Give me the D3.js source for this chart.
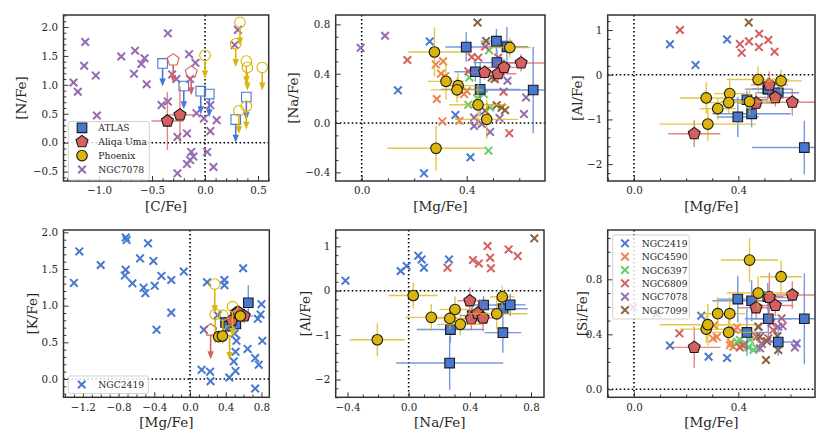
<!DOCTYPE html>
<html>
<head>
<meta charset="utf-8">
<script src="https://cdn.jsdelivr.net/npm/d3@7/dist/d3.min.js"></script>
<style>
html,body{margin:0;padding:0;background:#fff;}
svg{display:block;}
</style>
</head>
<body>
<svg id="chart" width="830" height="443"></svg>
<script>
// ======================= DATA =======================
const clusterNames  = ["NGC2419","NGC4590","NGC6397","NGC6809","NGC7078","NGC7099"];
const clusterColors = ["#4878d0","#ee854a","#6acc64","#d65f5f","#956cb4","#8c613c"];
const seriesNames   = ["ATLAS","Aliqa Uma","Phoenix"];
const seriesColors  = ["#4878d0","#d65f5f","#dbb40c"];

// ATLAS stars
const atlasMg    = [0.398,0.451,0.433,0.553,0.653,0.513,0.515];
const atlasMgErr = [0.08,0.15,0.08,0.08,0.20,0.06,0.09];
const atlasNa    = [0.616,0.273,0.416,0.618,0.268,0.664,0.490];
const atlasNaErr = [0.12,0.22,0.08,0.16,0.35,0.10,0.10];
const atlasAl    = [-0.945,-0.875,-0.560,-0.405,-1.630,-0.318,-0.322];
const atlasAlErr = [0.45,0.30,0.20,0.15,0.60,0.25,0.20];
const atlasSi    = [0.656,0.644,0.414,0.344,0.513,0.673,0.513];
const atlasSiErr = [0.17,0.15,0.17,0.10,0.33,0.10,0.15];
const atlasK     = [0.77,null,0.72,null,1.04,0.75,null];
const atlasKErr  = [0.08,null,0.08,null,0.24,0.08,null];
const atlasKMgErr= [0.04,null,0.04,null,0.04,0.04,null];

// Aliqa Uma stars
const aliqaMg    = [0.231,0.468,0.519,0.542,0.607];
const aliqaMgErr = [0.10,0.07,0.07,0.07,0.10];
const aliqaNa    = [null,0.410,0.400,0.451,0.487];
const aliqaNaErr = [null,0.06,0.08,0.07,0.07];
const aliqaAl    = [-1.32,-0.635,-0.228,-0.510,-0.615];
const aliqaAlErr = [0.30,0.25,0.30,0.20,0.30];
const aliqaSi    = [0.305,0.593,0.668,0.610,0.686];
const aliqaSiErr = [0.15,0.08,0.18,0.08,0.10];
const aliqaK     = [0.668,0.800,0.900,0.910,0.860];
const aliqaKUpper= [true,false,false,false,false];
const aliqaKErr  = [null,0.08,0.10,0.08,0.10];

// Phoenix stars
const phoenixMg    = [0.277,0.321,0.367,0.363,0.443,0.476,0.564,0.283];
const phoenixMgErr = [0.10,0.07,0.06,0.10,0.11,0.12,0.08,0.185];
const phoenixNa    = [0.576,0.338,0.303,0.269,0.148,0.030,0.612,-0.205];
const phoenixNaErr = [0.20,0.15,0.10,0.10,0.17,0.16,0.08,0.18];
const phoenixAl    = [-0.520,-0.758,-0.423,-0.624,-0.600,-0.108,-0.138,-1.105];
const phoenixAlErr = [0.35,0.25,0.30,0.25,0.30,0.30,0.25,0.37];
const phoenixSi    = [0.438,0.550,0.550,0.414,0.940,0.700,0.819,0.470];
const phoenixSiErr = [0.10,0.12,0.12,0.10,0.16,0.12,0.12,0.15];
const phoenixK     = [1.295,0.577,0.870,0.586,0.660,0.986,0.859,0.880];
const phoenixKUpper= [true,false,true,false,true,true,false,true];
const phoenixKErr  = [null,0.06,null,0.06,null,null,0.06,null];

// Panel [C/Fe] vs [N/Fe]
const cnNGC7078 = [[-1.24,1.04],[-1.20,0.88],[-1.13,1.74],[-1.14,1.33],[-1.03,1.16],[-1.02,0.47],[-0.79,1.49],[-0.66,1.59],[-0.67,1.19],[-0.60,1.36],[-0.57,1.46],[-0.55,1.01],[-0.35,1.89],[-0.41,0.65],[-0.35,0.71],[-0.31,1.18],[-0.27,1.10],[-0.26,0.10],[-0.26,-0.53],[-0.15,1.53],[-0.09,1.38],[-0.14,1.10],[-0.17,0.16],[-0.13,-0.16],[-0.11,-0.24],[-0.14,-0.30],[-0.17,-0.37],[-0.08,0.51],[-0.01,0.42],[0.05,0.65],[0.11,0.39],[0.05,0.20],[0.02,-0.16],[0.08,-0.42],[0.31,1.95],[0.28,1.69]];
const cnAtlasUpper   = [[-0.40,1.37],[-0.20,0.98],[-0.04,0.89],[0.04,0.84],[0.29,0.40],[0.39,0.79]];
const cnAliqaUpper   = [[-0.30,1.43],[-0.13,1.22]];
const cnAliqa        = [[-0.355,0.375,0.15,0.50],[-0.236,0.48,0.14,0.49]]; // C, N, Cerr, Nerr
const cnPhoenixUpper = [[0.00,1.51],[0.33,2.08],[0.29,1.71],[0.39,1.41],[0.40,1.30],[0.54,1.30],[0.32,0.55],[0.39,0.63]];
const upperLimitLength = 0.4;

// Cluster comparison samples: [cluster, x, y]
const mgNaClusters = [
 ["NGC2419",0.259,0.662],["NGC2419",0.138,0.265],["NGC2419",0.357,0.066],["NGC2419",0.414,-0.278],["NGC2419",0.237,-0.408],
 ["NGC4590",0.310,0.50],["NGC4590",0.282,0.475],["NGC4590",0.302,0.40],["NGC4590",0.318,0.38],["NGC4590",0.39,0.235],["NGC4590",0.286,0.195],["NGC4590",0.307,0.013],["NGC4590",0.372,0.018],["NGC4590",0.40,0.26],
 ["NGC6397",0.485,0.59],["NGC6397",0.483,-0.224],["NGC6397",0.41,0.37],["NGC6397",0.406,0.149],["NGC6397",0.489,0.127],["NGC6397",0.465,0.235],["NGC6397",0.44,0.20],
 ["NGC6809",0.174,0.511],["NGC6809",0.419,0.535],["NGC6809",0.444,0.53],["NGC6809",0.406,0.419],["NGC6809",0.54,0.254],["NGC6809",0.562,-0.082],["NGC6809",0.52,0.53],["NGC6809",0.47,0.62],
 ["NGC7078",-0.004,0.61],["NGC7078",0.089,0.708],["NGC7078",0.555,0.343],["NGC7078",0.626,0.208],["NGC7078",0.618,0.073],["NGC7078",0.489,-0.072],["NGC7078",0.428,-0.024],["NGC7078",0.428,0.045],["NGC7078",0.525,0.04],["NGC7078",0.457,-0.008],
 ["NGC7099",0.441,0.815],["NGC7099",0.474,0.665],["NGC7099",0.506,0.357],["NGC7099",0.495,0.37],["NGC7099",0.514,0.145],["NGC7099",0.546,0.104],["NGC7099",0.533,0.125],["NGC7099",0.47,0.10]
];
const mgAlClusters = [
 ["NGC2419",0.138,0.68],["NGC2419",0.236,0.216],["NGC2419",0.357,0.79],
 ["NGC6809",0.176,1.0],["NGC6809",0.406,0.686],["NGC6809",0.413,0.49],["NGC6809",0.441,0.746],["NGC6809",0.48,0.917],["NGC6809",0.479,0.619],["NGC6809",0.515,0.776],["NGC6809",0.539,0.515],
 ["NGC7099",0.44,1.17]
];
const mgKClusters = [
 ["NGC2419",-1.30,1.31],["NGC2419",-1.24,1.74],["NGC2419",-1.00,1.555],["NGC2419",-0.72,1.93],["NGC2419",-0.71,1.895],["NGC2419",-0.72,1.49],["NGC2419",-0.73,1.41],["NGC2419",-0.645,1.305],["NGC2419",-0.56,1.645],["NGC2419",-0.52,1.245],["NGC2419",-0.50,1.17],["NGC2419",-0.47,1.85],["NGC2419",-0.41,1.61],["NGC2419",-0.395,1.27],["NGC2419",-0.32,1.405],["NGC2419",-0.375,0.67],["NGC2419",-0.21,1.35],["NGC2419",-0.21,0.905],["NGC2419",-0.07,1.465],
 ["NGC2419",0.19,1.32],["NGC2419",0.155,0.67],["NGC2419",0.13,0.125],["NGC2419",0.225,0.10],["NGC2419",0.23,-0.03],["NGC2419",0.385,1.35],["NGC2419",0.385,1.28],["NGC2419",0.595,1.51],["NGC2419",0.50,0.62],["NGC2419",0.52,0.52],["NGC2419",0.51,0.37],["NGC2419",0.49,0.24],["NGC2419",0.51,0.11],["NGC2419",0.44,0.02],["NGC2419",0.645,0.41],["NGC2419",0.73,0.285],["NGC2419",0.77,0.195],["NGC2419",0.80,1.02],["NGC2419",0.79,0.88],["NGC2419",0.76,0.82],["NGC2419",0.81,0.52],["NGC2419",0.73,-0.13],["NGC2419",0.31,0.87]
];
const naAlClusters = [
 ["NGC2419",-0.413,0.225],["NGC2419",-0.052,0.443],["NGC2419",-0.013,0.555],["NGC2419",0.063,0.788],["NGC2419",0.085,0.705],["NGC2419",0.10,0.518],["NGC2419",0.264,0.705],
 ["NGC6809",0.254,0.518],["NGC6809",0.42,0.69],["NGC6809",0.459,0.615],["NGC6809",0.516,1.005],["NGC6809",0.533,0.743],["NGC6809",0.538,0.503],["NGC6809",0.654,0.93],["NGC6809",0.713,0.78],
 ["NGC7099",0.822,1.18]
];
const mgSiClusters = [
 ["NGC2419",0.138,0.318],["NGC2419",0.258,0.535],["NGC2419",0.286,0.237],["NGC2419",0.357,0.228],
 ["NGC4590",0.307,0.465],["NGC4590",0.303,0.37],["NGC4590",0.387,0.431],["NGC4590",0.381,0.31],["NGC4590",0.368,0.322],["NGC4590",0.318,0.38],["NGC4590",0.395,0.45],["NGC4590",0.372,0.34],
 ["NGC6397",0.406,0.359],["NGC6397",0.426,0.334],["NGC6397",0.439,0.305],["NGC6397",0.458,0.286],["NGC6397",0.412,0.322],["NGC6397",0.395,0.345],["NGC6397",0.445,0.36],["NGC6397",0.47,0.30],
 ["NGC6809",0.174,0.407],["NGC6809",0.406,0.305],["NGC6809",0.47,0.383],["NGC6809",0.515,0.371],["NGC6809",0.534,0.431],["NGC6809",0.527,0.484],["NGC6809",0.566,0.516],["NGC6809",0.42,0.32],["NGC6809",0.49,0.33],
 ["NGC7078",-0.003,0.596],["NGC7078",0.087,0.548],["NGC7078",0.478,0.455],["NGC7078",0.553,0.455],["NGC7078",0.57,0.46],["NGC7078",0.624,0.334],["NGC7078",0.617,0.305],["NGC7078",0.483,0.298],
 ["NGC7099",0.476,0.455],["NGC7099",0.506,0.213],["NGC7099",0.483,0.383],["NGC7099",0.55,0.387],["NGC7099",0.553,0.286],["NGC7099",0.51,0.35]
];

// Tick values
const cnXTicks = [-1.0,-0.5,0.0,0.5],  cnYTicks = [-0.5,0.0,0.5,1.0,1.5,2.0];
const naXTicks = [0.0,0.4],            naYTicks = [-0.4,0.0,0.4,0.8];
const alXTicks = [0.0,0.4],            alYTicks = [-2,-1,0,1];
const kXTicks  = [-1.2,-0.8,-0.4,0.0,0.4,0.8], kYTicks = [0.0,0.5,1.0,1.5,2.0];
const naAlXTicks = [-0.4,0.0,0.4,0.8], naAlYTicks = [-2,-1,0,1];
const siXTicks = [0.0,0.4],            siYTicks = [0.0,0.4,0.8];

// ======================= DRAWING =======================
const FONT = '"DejaVu Serif","Liberation Serif",serif';
const svg = d3.select('#chart');
const defs = svg.append('defs');
const cColor = n => clusterColors[clusterNames.indexOf(n)];
const fmt1 = d3.format('.1f'), fmt0 = d3.format('d');

function shapePath(shape){
  if(shape==='square') return 'M-4.8,-4.8H4.8V4.8H-4.8Z';
  if(shape==='circle') return d3.symbol(d3.symbolCircle, Math.PI*5.3*5.3)();
  if(shape==='pentagon'){
    const r=6.3;
    const p=d3.range(5).map(i=>{const a=-Math.PI/2+i*2*Math.PI/5;return [r*Math.cos(a),r*Math.sin(a)];});
    return 'M'+p.map(q=>q[0].toFixed(2)+','+q[1].toFixed(2)).join('L')+'Z';
  }
  return 'M-3.8,-3.8L3.8,3.8M-3.8,3.8L3.8,-3.8';
}

function minorTicks(domain, step, majors){
  const out=[]; const s=Math.ceil(domain[0]/step-1e-9), e=Math.floor(domain[1]/step+1e-9);
  for(let i=s;i<=e;i++){const v=+(i*step).toFixed(6); if(!majors.some(m=>Math.abs(m-v)<1e-6)) out.push(v);}
  return out;
}

function makePanel(cfg){
  const x=d3.scaleLinear().domain(cfg.xd).range([cfg.x0,cfg.x1]);
  const y=d3.scaleLinear().domain(cfg.yd).range([cfg.y1,cfg.y0]);
  const g=svg.append('g');
  defs.append('clipPath').attr('id','clip-'+cfg.id).append('rect')
    .attr('x',cfg.x0).attr('y',cfg.y0).attr('width',cfg.x1-cfg.x0).attr('height',cfg.y1-cfg.y0);
  const plot=g.append('g').attr('clip-path',`url(#clip-${cfg.id})`);
  const z=plot.append('g').attr('stroke','#000').attr('stroke-width',1.6).attr('stroke-dasharray','1.6,2.4');
  z.append('line').attr('x1',x(0)).attr('x2',x(0)).attr('y1',cfg.y0).attr('y2',cfg.y1);
  z.append('line').attr('x1',cfg.x0).attr('x2',cfg.x1).attr('y1',y(0)).attr('y2',y(0));
  return {x,y,g,plot,cfg};
}

function crosses(p, recs){
  p.plot.append('g').selectAll('path').data(recs).join('path')
    .attr('d',shapePath('cross'))
    .attr('transform',d=>`translate(${p.x(d[1])},${p.y(d[2])})`)
    .attr('stroke',d=>cColor(d[0])).attr('stroke-width',2).attr('fill','none');
}

function errorBars(p, pts, color){
  const gg=p.plot.append('g').attr('stroke',color).attr('stroke-width',1.4).attr('opacity',0.75);
  pts.forEach(d=>{
    if(d.xe) gg.append('line').attr('x1',p.x(d.x-d.xe)).attr('x2',p.x(d.x+d.xe)).attr('y1',p.y(d.y)).attr('y2',p.y(d.y));
    if(d.ye) gg.append('line').attr('x1',p.x(d.x)).attr('x2',p.x(d.x)).attr('y1',p.y(d.y-d.ye)).attr('y2',p.y(d.y+d.ye));
  });
}

function markers(p, pts, shape, color){
  p.plot.append('g').selectAll('path').data(pts).join('path')
    .attr('d',shapePath(shape))
    .attr('transform',d=>`translate(${p.x(d.x)},${p.y(d.y)})`)
    .attr('fill',color).attr('stroke','#1a1a1a').attr('stroke-width',1.1);
}

function upper(p, pts, shape, color){
  const gg=p.plot.append('g');
  pts.forEach(d=>{
    const cx=p.x(d.x), cy=p.y(d.y), ey=p.y(d.y-upperLimitLength);
    gg.append('line').attr('x1',cx).attr('x2',cx).attr('y1',cy+5).attr('y2',ey-6)
      .attr('stroke',color).attr('stroke-width',1.6);
    gg.append('path').attr('d',`M${cx-3.2},${ey-8}L${cx+3.2},${ey-8}L${cx},${ey}Z`).attr('fill',color);
    gg.append('path').attr('d',shapePath(shape)).attr('transform',`translate(${cx},${cy})`)
      .attr('fill','none').attr('stroke',color).attr('stroke-width',1.1);
  });
}

function axes(p){
  const {x,y,g,cfg}=p;
  const st=(sel)=>{sel.select('.domain').remove();
    sel.selectAll('line').attr('stroke','#333').attr('stroke-width',1);
    sel.selectAll('text').attr('font-family',FONT).attr('font-size',10.3).attr('fill','#262626');};
  g.append('g').attr('transform',`translate(0,${cfg.y1})`)
    .call(d3.axisBottom(x).tickValues(minorTicks(cfg.xd,cfg.xm,cfg.xt)).tickFormat(()=>'').tickSizeInner(-2.8).tickSizeOuter(0)).call(st);
  g.append('g').attr('transform',`translate(${cfg.x0},0)`)
    .call(d3.axisLeft(y).tickValues(minorTicks(cfg.yd,cfg.ym,cfg.yt)).tickFormat(()=>'').tickSizeInner(-2.8).tickSizeOuter(0)).call(st);
  g.append('g').attr('transform',`translate(0,${cfg.y1})`)
    .call(d3.axisBottom(x).tickValues(cfg.xt).tickFormat(cfg.xf).tickSizeInner(-5).tickSizeOuter(0).tickPadding(6)).call(st);
  g.append('g').attr('transform',`translate(${cfg.x0},0)`)
    .call(d3.axisLeft(y).tickValues(cfg.yt).tickFormat(cfg.yf).tickSizeInner(-5).tickSizeOuter(0).tickPadding(5.5)).call(st);
  g.append('rect').attr('x',cfg.x0).attr('y',cfg.y0).attr('width',cfg.x1-cfg.x0).attr('height',cfg.y1-cfg.y0)
    .attr('fill','none').attr('stroke','#333').attr('stroke-width',1.5);
  g.append('text').attr('x',(cfg.x0+cfg.x1)/2).attr('y',cfg.y1+24.5).attr('text-anchor','middle')
    .attr('dominant-baseline','central').attr('font-family',FONT).attr('font-size',13.5).attr('fill','#262626').text(cfg.xl);
  g.append('text').attr('transform',`translate(${cfg.ylx},${(cfg.y0+cfg.y1)/2}) rotate(-90)`).attr('text-anchor','middle')
    .attr('dominant-baseline','central').attr('font-family',FONT).attr('font-size',13.5).attr('fill','#262626').text(cfg.yl);
}

function legend(p, box, entries){
  const g=p.g.append('g');
  g.append('rect').attr('x',box.x).attr('y',box.y).attr('width',box.w).attr('height',box.h).attr('rx',2)
    .attr('fill','#fff').attr('fill-opacity',0.8).attr('stroke','#cccccc').attr('stroke-width',0.9);
  entries.forEach((e,i)=>{
    const cy=box.y+box.r0+i*box.dy;
    const m=g.append('path').attr('d',shapePath(e.shape)).attr('transform',`translate(${box.x+box.mx},${cy})`);
    if(e.shape==='cross') m.attr('fill','none').attr('stroke',e.color).attr('stroke-width',2);
    else m.attr('fill',e.color).attr('stroke','#1a1a1a').attr('stroke-width',1.1);
    g.append('text').attr('x',box.x+box.tx).attr('y',cy).attr('dominant-baseline','central')
      .attr('font-family',FONT).attr('font-size',9.2).attr('fill','#262626').text(e.name);
  });
}

const zipStars=(xs,xe,ys,ye,keep)=>xs.map((v,i)=>({x:v,xe:xe?xe[i]:null,y:ys[i],ye:ye?ye[i]:null,i}))
  .filter(d=>d.y!=null && (!keep || keep(d.i)));

function starSeries(p, xs,xe,ys,ye){
  // xs, ys arrays per series in order ATLAS, Aliqa, Phoenix
  const shapes=['square','pentagon','circle'];
  xs.forEach((xa,k)=>{
    const pts=zipStars(xa,xe[k],ys[k],ye[k]);
    errorBars(p,pts,seriesColors[k]);
    markers(p,pts,shapes[k],seriesColors[k]);
  });
}

// ---- Panel 1: [C/Fe] vs [N/Fe]
{
  const p=makePanel({id:'cn',x0:63.5,x1:268.7,y0:15,y1:181,xd:[-1.335,0.601],yd:[-0.662,2.207]});
  crosses(p,cnNGC7078.map(d=>["NGC7078",d[0],d[1]]));
  upper(p,cnAtlasUpper.map(d=>({x:d[0],y:d[1]})),'square',seriesColors[0]);
  const al=cnAliqa.map(d=>({x:d[0],y:d[1],xe:d[2],ye:d[3]}));
  errorBars(p,al,seriesColors[1]);
  markers(p,al,'pentagon',seriesColors[1]);
  upper(p,cnAliqaUpper.map(d=>({x:d[0],y:d[1]})),'pentagon',seriesColors[1]);
  upper(p,cnPhoenixUpper.map(d=>({x:d[0],y:d[1]})),'circle',seriesColors[2]);
  Object.assign(p.cfg,{xt:cnXTicks,yt:cnYTicks,xm:0.1,ym:0.1,xf:fmt1,yf:fmt1,xl:'[C/Fe]',yl:'[N/Fe]',ylx:20.7});
  axes(p);
  legend(p,{x:68.3,y:121.5,w:81,h:58.5,r0:6.3,dy:13.9,mx:13.7,tx:30},[
    {name:seriesNames[0],shape:'square',color:seriesColors[0]},
    {name:seriesNames[1],shape:'pentagon',color:seriesColors[1]},
    {name:seriesNames[2],shape:'circle',color:seriesColors[2]},
    {name:'NGC7078',shape:'cross',color:cColor('NGC7078')}]);
}

// ---- Panel 2: [Mg/Fe] vs [Na/Fe]
{
  const p=makePanel({id:'na',x0:335.7,x1:545,y0:15,y1:181,xd:[-0.099,0.698],yd:[-0.470,0.876]});
  crosses(p,mgNaClusters);
  starSeries(p,[atlasMg,aliqaMg,phoenixMg],[atlasMgErr,aliqaMgErr,phoenixMgErr],[atlasNa,aliqaNa,phoenixNa],[atlasNaErr,aliqaNaErr,phoenixNaErr]);
  Object.assign(p.cfg,{xt:naXTicks,yt:naYTicks,xm:0.1,ym:0.1,xf:fmt1,yf:fmt1,xl:'[Mg/Fe]',yl:'[Na/Fe]',ylx:293});
  axes(p);
}

// ---- Panel 3: [Mg/Fe] vs [Al/Fe]
{
  const p=makePanel({id:'al',x0:607.7,x1:815,y0:15,y1:181,xd:[-0.1008,0.694],yd:[-2.378,1.336]});
  crosses(p,mgAlClusters);
  starSeries(p,[atlasMg,aliqaMg,phoenixMg],[atlasMgErr,aliqaMgErr,phoenixMgErr],[atlasAl,aliqaAl,phoenixAl],[atlasAlErr,aliqaAlErr,phoenixAlErr]);
  Object.assign(p.cfg,{xt:alXTicks,yt:alYTicks,xm:0.1,ym:0.2,xf:fmt1,yf:fmt0,xl:'[Mg/Fe]',yl:'[Al/Fe]',ylx:576.7});
  axes(p);
}

// ---- Panel 4: [Mg/Fe] vs [K/Fe]
{
  const p=makePanel({id:'k',x0:63.5,x1:269.3,y0:230,y1:397.3,xd:[-1.417,0.888],yd:[-0.250,2.032]});
  crosses(p,mgKClusters);
  const at=zipStars(atlasMg,atlasKMgErr,atlasK,atlasKErr);
  errorBars(p,at,seriesColors[0]); markers(p,at,'square',seriesColors[0]);
  const alF=zipStars(aliqaMg,aliqaMgErr,aliqaK,aliqaKErr,i=>!aliqaKUpper[i]);
  const alU=zipStars(aliqaMg,null,aliqaK,null,i=>aliqaKUpper[i]);
  upper(p,alU,'pentagon',seriesColors[1]);
  errorBars(p,alF,seriesColors[1]); markers(p,alF,'pentagon',seriesColors[1]);
  const phF=zipStars(phoenixMg,null,phoenixK,phoenixKErr,i=>!phoenixKUpper[i]);
  const phU=zipStars(phoenixMg,null,phoenixK,null,i=>phoenixKUpper[i]);
  upper(p,phU,'circle',seriesColors[2]);
  errorBars(p,phF,seriesColors[2]); markers(p,phF,'circle',seriesColors[2]);
  Object.assign(p.cfg,{xt:kXTicks,yt:kYTicks,xm:0.1,ym:0.1,xf:fmt1,yf:fmt1,xl:'[Mg/Fe]',yl:'[K/Fe]',ylx:31.7});
  axes(p);
  legend(p,{x:68.3,y:376,w:80,h:17.5,r0:8.5,dy:13.9,mx:13.4,tx:30},[
    {name:'NGC2419',shape:'cross',color:cColor('NGC2419')}]);
}

// ---- Panel 5: [Na/Fe] vs [Al/Fe]
{
  const p=makePanel({id:'naal',x0:335.7,x1:544,y0:230,y1:397.3,xd:[-0.477,0.885],yd:[-2.401,1.367]});
  crosses(p,naAlClusters);
  starSeries(p,[atlasNa,aliqaNa,phoenixNa],[atlasNaErr,aliqaNaErr,phoenixNaErr],[atlasAl,aliqaAl,phoenixAl],[atlasAlErr,aliqaAlErr,phoenixAlErr]);
  Object.assign(p.cfg,{xt:naAlXTicks,yt:naAlYTicks,xm:0.1,ym:0.2,xf:fmt1,yf:fmt0,xl:'[Na/Fe]',yl:'[Al/Fe]',ylx:305});
  axes(p);
}

// ---- Panel 6: [Mg/Fe] vs [Si/Fe]
{
  const p=makePanel({id:'si',x0:607.7,x1:815,y0:230,y1:397.3,xd:[-0.1008,0.694],yd:[-0.058,1.1585]});
  crosses(p,mgSiClusters);
  starSeries(p,[atlasMg,aliqaMg,phoenixMg],[atlasMgErr,aliqaMgErr,phoenixMgErr],[atlasSi,aliqaSi,phoenixSi],[atlasSiErr,aliqaSiErr,phoenixSiErr]);
  Object.assign(p.cfg,{xt:siXTicks,yt:siYTicks,xm:0.1,ym:0.1,xf:fmt1,yf:fmt1,xl:'[Mg/Fe]',yl:'[Si/Fe]',ylx:581.7});
  axes(p);
  legend(p,{x:612.7,y:235,w:76.6,h:84,r0:8.3,dy:13.35,mx:12.3,tx:29},
    clusterNames.map((n,i)=>({name:n,shape:'cross',color:clusterColors[i]})));
}
</script>
</body>
</html>
